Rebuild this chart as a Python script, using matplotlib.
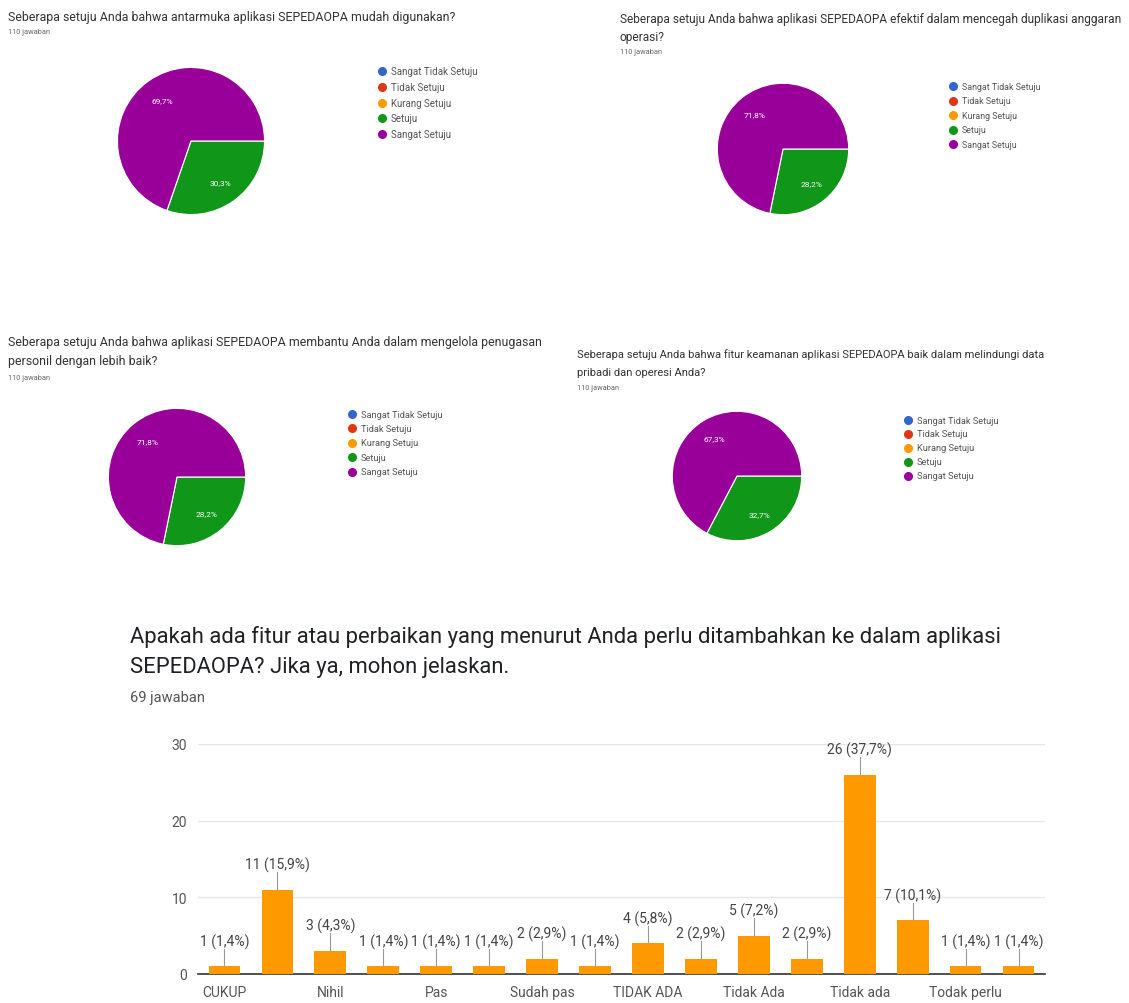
import matplotlib
matplotlib.use('Agg')
import matplotlib.pyplot as plt
from matplotlib.lines import Line2D
import numpy as np

plt.rcParams['font.family'] = ['Roboto', 'DejaVu Sans']

W, H = 1129, 1004

# pie data (Setuju, Sangat Setuju)
legend_labels = ['Sangat Tidak Setuju', 'Tidak Setuju', 'Kurang Setuju', 'Setuju', 'Sangat Setuju']
legend_colors = ['#3366cc', '#dc3912', '#ff9900', '#109618', '#990099']

pie_titles = [
    ['Seberapa setuju Anda bahwa antarmuka aplikasi SEPEDAOPA mudah digunakan?'],
    ['Seberapa setuju Anda bahwa aplikasi SEPEDAOPA efektif dalam mencegah duplikasi anggaran',
     'operasi?'],
    ['Seberapa setuju Anda bahwa aplikasi SEPEDAOPA membantu Anda dalam mengelola penugasan',
     'personil dengan lebih baik?'],
    ['Seberapa setuju Anda bahwa fitur keamanan aplikasi SEPEDAOPA baik dalam melindungi data',
     'pribadi dan operesi Anda?'],
]
pie_setuju = [30.3, 28.2, 28.2, 32.7]
pie_sangat = [69.7, 71.8, 71.8, 67.3]
pie_count = '110 jawaban'

# bar data
bar_title = ['Apakah ada fitur atau perbaikan yang menurut Anda perlu ditambahkan ke dalam aplikasi',
             'SEPEDAOPA? Jika ya, mohon jelaskan.']
bar_count = '69 jawaban'
bar_labels = ['CUKUP', '', 'Nihil', '', 'Pas', '', 'Sudah pas', '', 'TIDAK ADA', '',
              'Tidak Ada', '', 'Tidak ada', '', 'Todak perlu', '']
bar_values = [1, 11, 3, 1, 1, 1, 2, 1, 4, 2, 5, 2, 26, 7, 1, 1]
bar_pct = ['1,4', '15,9', '4,3', '1,4', '1,4', '1,4', '2,9', '1,4', '5,8', '2,9',
           '7,2', '2,9', '37,7', '10,1', '1,4', '1,4']

fig = plt.figure(figsize=(W / 100, H / 100), dpi=100)
fig.patch.set_facecolor('white')


def px_axes(x, y, w, h):
    return fig.add_axes([x / W, 1 - (y + h) / H, w / W, h / H])


def px_text(x, y, s, **kw):
    fig.text(x / W, 1 - y / H, s, va='center', ha='left', **kw)


# title x, title line ys, count y, title size, pie centre, radius, legend pos, legend gap, legend size
pie_layout = [
    (8, [18], 33, 8.9, (191, 142), 75, (382, 72), 15.8, 7.0),
    (620, [19, 37], 53, 8.6, (783, 150), 67, (953, 87), 14.6, 6.4),
    (8, [343, 361], 378, 8.9, (177, 478), 70, (352, 415), 14.4, 6.7),
    (577, [355, 373], 389, 8.0, (737, 477), 66, (908, 421), 13.9, 6.7),
]

for i, (tx, tys, cy, tsize, ctr, r, lpos, lgap, lsize) in enumerate(pie_layout):
    for line, ty in zip(pie_titles[i], tys):
        px_text(tx, ty, line, fontsize=tsize, color='#333333')
    px_text(tx, cy, pie_count, fontsize=5.3, color='#666666')
    ax = px_axes(ctr[0] - r, ctr[1] - r, 2 * r, 2 * r)
    vals = [pie_setuju[i], pie_sangat[i]]
    ax.pie(vals, colors=['#109618', '#990099'], startangle=0, counterclock=False,
           wedgeprops=dict(edgecolor='white', linewidth=0.8), radius=1.0)
    # percentage labels at mid angle of each slice
    start = 0
    for v in vals:
        mid = np.deg2rad(-(start + v / 2) / 100 * 360)
        ax.text(0.68 * np.cos(mid), 0.68 * np.sin(mid), f'{v:.1f}%'.replace('.', ','),
                color='white', fontsize=6, ha='center', va='center')
        start += v
    ax.set_xlim(-1.02, 1.02)
    ax.set_ylim(-1.02, 1.02)
    ax.set_aspect('equal')
    ax.axis('off')
    # legend
    for k, (lab, col) in enumerate(zip(legend_labels, legend_colors)):
        ly = lpos[1] + k * lgap
        fig.add_artist(Line2D([lpos[0] / W], [1 - ly / H], marker='o', markersize=5.5,
                              color=col, linestyle='none'))
        fig.text((lpos[0] + 9) / W, 1 - ly / H, lab, fontsize=lsize, color='#555555',
                 va='center', ha='left')

# bar chart
px_text(130, 637, bar_title[0], fontsize=15.8, color='#202124')
px_text(130, 668, bar_title[1], fontsize=15.8, color='#202124')
px_text(130, 698, bar_count, fontsize=10.5, color='#555555')

axb = px_axes(198, 745, 847, 230)
x = list(range(len(bar_values)))
axb.bar(x, bar_values, width=0.6, color='#ff9900', zorder=3)
axb.set_xlim(-0.5, len(bar_values) - 0.5)
axb.set_ylim(0, 30)
axb.set_yticks([0, 10, 20, 30])
axb.set_xticks(x)
axb.set_xticklabels(bar_labels)
axb.tick_params(axis='both', length=0, labelsize=10, colors='#555555', pad=8)
axb.grid(axis='y', color='#e6e6e6', linewidth=1, zorder=0)
for s in ['top', 'right', 'left']:
    axb.spines[s].set_visible(False)
axb.spines['bottom'].set_color('#333333')
axb.spines['bottom'].set_linewidth(1.2)
for xi, v, p in zip(x, bar_values, bar_pct):
    axb.plot([xi, xi], [v, v + 2.3], color='#999999', linewidth=0.8, zorder=2)
    axb.text(xi, v + 2.3, f'{v} ({p}%)', ha='center', va='bottom', fontsize=10,
             color='#444444', zorder=4)

fig.savefig('out.png', dpi=100, facecolor='white')
